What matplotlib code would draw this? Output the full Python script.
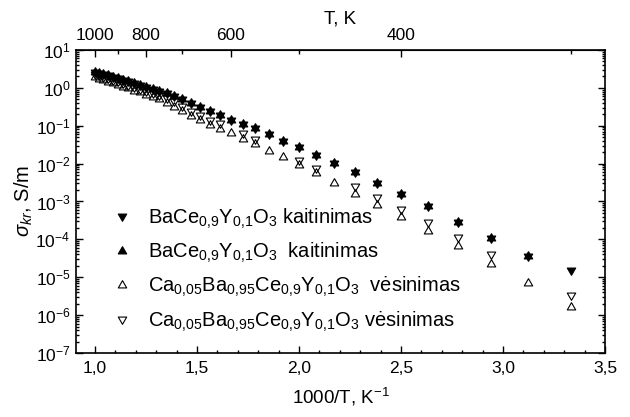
import numpy as np
import matplotlib
matplotlib.use("Agg")
import matplotlib.pyplot as plt
from matplotlib.ticker import MultipleLocator, FuncFormatter, LogLocator, FixedLocator, NullFormatter

plt.rcParams['font.family'] = ['Liberation Sans', 'DejaVu Sans']
plt.rcParams['mathtext.fontset'] = 'custom'
plt.rcParams['mathtext.rm'] = 'Liberation Sans'
plt.rcParams['mathtext.it'] = 'Liberation Sans:italic'
plt.rcParams['mathtext.bf'] = 'Liberation Sans:bold'

# ---- data ----
T_all = [1000, 980, 960, 940, 920, 900, 880, 860, 840, 820, 800, 780, 760, 740, 720,
         700, 680, 660, 640, 620, 600, 580, 560, 540, 520, 500, 480, 460, 440, 420,
         400, 380, 360, 340, 320, 300]

# BaCe0.9Y0.1O3 heating (filled down triangles)
sigma_heat_down = [2.69, 2.51, 2.34, 2.14, 1.95, 1.78, 1.62, 1.48, 1.32, 1.20, 1.07,
                   0.933, 0.832, 0.724, 0.617, 0.501, 0.398, 0.316, 0.240, 0.191, 0.145,
                   0.112, 0.0851, 0.0589, 0.0407, 0.0275, 0.0170, 0.0102, 0.00603,
                   0.00302, 0.00155, 7.41e-4, 2.95e-4, 1.12e-4, 3.55e-5, 1.58e-5]

# BaCe0.9Y0.1O3 heating (filled up triangles), no 300 K point
T_heat_up = T_all[:-1]
sigma_heat_up = sigma_heat_down[:-1]

# Ca0.05Ba0.95Ce0.9Y0.1O3 cooling (open up triangles)
sigma_cool_up = [1.91, 1.76, 1.62, 1.46, 1.32, 1.19, 1.07, 0.966, 0.851, 0.759, 0.661,
                 0.569, 0.501, 0.398, 0.316, 0.240, 0.182, 0.138, 0.105, 0.0813, 0.0646,
                 0.0457, 0.0324, 0.0219, 0.0151, 0.00933, 0.00550, 0.00316, 0.00158,
                 8.13e-4, 3.80e-4, 1.70e-4, 6.76e-5, 2.29e-5, 6.92e-6, 1.62e-6]

# Ca0.05Ba0.95Ce0.9Y0.1O3 cooling (open down triangles)
T_cool_down = [1000, 980, 960, 940, 920, 900, 880, 860, 840, 820, 800, 780, 760, 740,
               720, 700, 680, 660, 640, 620, 580, 560, 500, 480, 440, 420, 400, 380,
               360, 340, 300]
sigma_cool_down = [2.29, 2.14, 1.95, 1.78, 1.62, 1.48, 1.32, 1.20, 1.07, 0.955, 0.851,
                   0.741, 0.646, 0.537, 0.437, 0.331, 0.251, 0.191, 0.145, 0.115, 0.0631,
                   0.0447, 0.0126, 0.00776, 0.00251, 0.00129, 6.31e-4, 2.95e-4, 1.15e-4,
                   4.17e-5, 3.31e-6]

labels = [r'BaCe$_{0{,}9}$Y$_{0{,}1}$O$_3$ kaitinimas',
          r'BaCe$_{0{,}9}$Y$_{0{,}1}$O$_3$  kaitinimas',
          r'Ca$_{0{,}05}$Ba$_{0{,}95}$Ce$_{0{,}9}$Y$_{0{,}1}$O$_3$  vėsinimas',
          r'Ca$_{0{,}05}$Ba$_{0{,}95}$Ce$_{0{,}9}$Y$_{0{,}1}$O$_3$ vėsinimas']

top_major = [1000, 800, 600, 400]
top_minor = [900, 700, 500, 300]

# equilateral triangle markers centred on their centroid (Origin style)
TRI_UP = [(0.0, 1.0), (-0.866, -0.5), (0.866, -0.5), (0.0, 1.0)]
TRI_DOWN = [(0.0, -1.0), (-0.866, 0.5), (0.866, 0.5), (0.0, -1.0)]

# ---- figure ----
fig = plt.figure(figsize=(6.3, 4.17), dpi=100)
ax = fig.add_axes([76/630, 1-353/417, 529/630, 303/417])

def inv(T):
    return 1000.0/np.asarray(T, dtype=float)

ms = 7.0
ax.plot(inv(T_all), sigma_heat_down, linestyle='none', marker=TRI_DOWN, ms=ms,
        mfc='black', mec='black', mew=0.8, label=labels[0])
ax.plot(inv(T_heat_up), sigma_heat_up, linestyle='none', marker=TRI_UP, ms=ms,
        mfc='black', mec='black', mew=0.8, label=labels[1])
ax.plot(inv(T_all), sigma_cool_up, linestyle='none', marker=TRI_UP, ms=ms,
        mfc='none', mec='black', mew=0.8, label=labels[2])
ax.plot(inv(T_cool_down), sigma_cool_down, linestyle='none', marker=TRI_DOWN, ms=ms,
        mfc='none', mec='black', mew=0.8, label=labels[3])

ax.set_yscale('log')
ax.set_ylim(1e-7, 1e1)
ax.set_xlim(0.907, 3.5)

ax.xaxis.set_major_locator(MultipleLocator(0.5))
ax.xaxis.set_minor_locator(MultipleLocator(0.1))
ax.xaxis.set_major_formatter(FuncFormatter(lambda v, p: f"{v:.1f}".replace('.', ',')))
ax.yaxis.set_major_locator(LogLocator(base=10, numticks=20))
ax.yaxis.set_minor_locator(LogLocator(base=10, subs=np.arange(2, 10), numticks=20))
ax.yaxis.set_minor_formatter(NullFormatter())

ax.tick_params(which='both', direction='in', top=False, right=True, labelsize=12.5,
               width=1.0)
ax.tick_params(which='major', length=5)
ax.tick_params(which='minor', length=2.5)
ax.tick_params(axis='x', pad=6)
ax.tick_params(axis='y', pad=4)
for s in ax.spines.values():
    s.set_linewidth(1.2)

ax.set_xlabel(r'1000/T, K$^{-1}$', fontsize=13.5, labelpad=7)
ax.set_ylabel(r'$\sigma_{kr}$, S/m', fontsize=14.5, labelpad=0)

with np.errstate(divide='ignore'):
    sec = ax.secondary_xaxis('top', functions=(lambda x: 1000.0/np.where(x == 0, 1e-9, x),
                                               lambda t: 1000.0/np.where(t == 0, 1e-9, t)))
sec.xaxis.set_major_locator(FixedLocator(top_major))
sec.xaxis.set_minor_locator(FixedLocator(top_minor))
sec.xaxis.set_major_formatter(FuncFormatter(lambda v, p: f"{v:.0f}"))
sec.tick_params(which='both', direction='in', labelsize=12.5, width=1.0, pad=5)
sec.tick_params(which='major', length=5)
sec.tick_params(which='minor', length=3)
sec.set_xlabel('T, K', fontsize=13.5, labelpad=3)

leg = ax.legend(loc='upper left', bbox_to_anchor=(0.045, 0.53), frameon=False,
                fontsize=14.5, handlelength=0.8, handletextpad=0.9, labelspacing=0.5,
                borderpad=0.2, markerscale=1.0)

fig.savefig('out.png', dpi=100)
